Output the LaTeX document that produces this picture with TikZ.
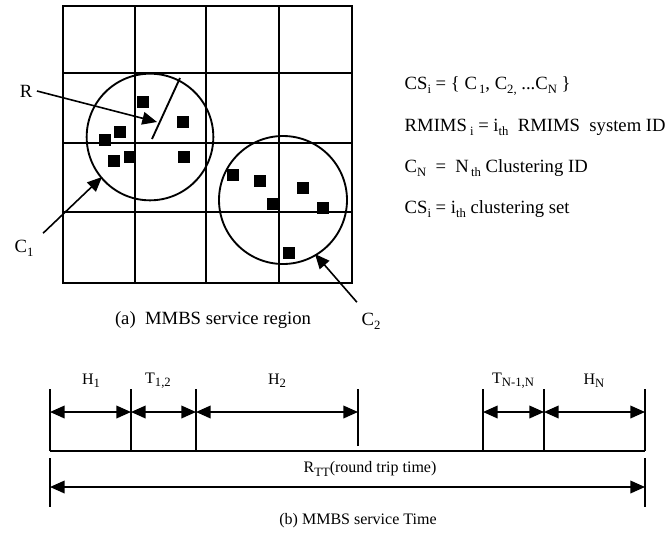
\documentclass[tikz,border=0pt]{standalone}
\usepackage{fontspec}
\setmainfont{Liberation Serif}
\usetikzlibrary{arrows.meta}
\newcommand{\lowtxt}[1]{\raisebox{-0.45ex}{\fontsize{9.5}{9.5}\selectfont #1}}

\begin{document}
\begin{tikzpicture}[x=0.75pt,y=-0.75pt,>={Triangle[length=11pt,width=9.5pt]},
	grid/.style={line width=1.8pt},
	ring/.style={line width=1.4pt},
	host/.style={fill=black,minimum size=9pt,inner sep=0pt},
	tick/.style={line width=1pt},
	span/.style={<->,line width=1.2pt},
	big/.style={font=\fontsize{14}{16}\selectfont},
	mid/.style={font=\fontsize{14}{16}\selectfont},
	small/.style={font=\fontsize{12}{14}\selectfont}]
	\useasboundingbox (0,0) rectangle (670,532);

	% draw the service region grid
	\draw[grid] (63,6) rectangle (352,283);
	\foreach \x in {135,206,279}
		\draw[grid] (\x,6) -- (\x,283);
	\foreach \y in {73,143,212}
		\draw[grid] (63,\y) -- (352,\y);

	% the two clusters
	\coordinate (c1) at (150,137);
	\coordinate (c2) at (283,200);
	\draw[ring] (c1) circle[radius=47.5pt];
	\draw[ring] (c2) circle[radius=48pt];
	\coordinate (rim) at (180,78);
	\draw[ring] (152,139) -- (rim);

	% hosts of the first cluster
	\foreach \x/\y [count=\i] in {143/102,183/122,120/132,105/140,130/157,114/161,184/157}
		\node[host] (a\i) at (\x,\y) {};
	% hosts of the second cluster
	\foreach \x/\y [count=\i] in {233/175,260/181,303/188,273/204,323/208,289/253}
		\node[host] (b\i) at (\x,\y) {};

	% labels with their arrows
	\node[mid] (R) at (26,91) {R};
	\coordinate (Rtip) at (157,122);
	\draw[->,line width=1.2pt] (R.east) -- (Rtip);

	\node[mid] (C1) at (24,248) {C\lowtxt{1}};
	\coordinate (C1tip) at (102,177);
	\draw[->,line width=1.2pt] ([shift={(5,-2)}]C1.north east) -- (C1tip);

	\node[mid] (C2) at (371,321) {C\lowtxt{2}};
	\coordinate (C2tip) at (315,254);
	\draw[->,line width=1.2pt] ([shift={(0,-6)}]C2.north west) -- (C2tip);

	\node[big] (capa) at (213,320) {(a)\ \ MMBS service region};

	% definitions on the right
	\node[big,anchor=west] (def1) at (400,86) {CS\lowtxt{i} = \{ C\lowtxt{\,1}, C\lowtxt{2,} ...C\lowtxt{N} \}};
	\node[big,anchor=west] (def2) at (400,127) {RMIMS\lowtxt{\ i} = i\lowtxt{th}\ \ RMIMS\ \ system ID};
	\node[big,anchor=west] (def3) at (400,168) {C\lowtxt{N}\ \ =\ \ N\lowtxt{\,th} Clustering ID};
	\node[big,anchor=west] (def4) at (400,209) {CS\lowtxt{i} = i\lowtxt{th} clustering set};

	% the time line
	\foreach \n/\x in {0/50,1/131,2/196,3/358,4/483,5/544,6/645} {
		\coordinate (t\n) at (\x,451);
		\coordinate (s\n) at (\x,412);
	}
	\foreach \n in {0,1,2,4,5,6}
		\draw[tick] (t\n) -- ++(0,-62);
	\draw[tick] (t3) ++(0,-5) -- ++(0,-57);
	\draw[line width=1.5pt] (t0) -- (t6);

	% draw each span
	\foreach \a/\b in {0/1,1/2,2/3,4/5,5/6}
		\draw[span] (s\a) -- (s\b);

	\node[small] (H1) at (91,381) {H\lowtxt{1}};
	\node[small] (T12) at (158,381) {T\lowtxt{1,2}};
	\node[small] (H2) at (277,381) {H\lowtxt{2}};
	\node[small] (TN) at (513,381) {T\lowtxt{N-1,N}};
	\node[small] (HN) at (594,381) {H\lowtxt{N}};

	% round trip time
	\coordinate (r0) at (50,487);
	\coordinate (r6) at (645,487);
	\draw[tick] (50,458) -- (50,507);
	\draw[tick] (645,458) -- (645,507);
	\draw[span] (r0) -- (r6);
	\node[small] (RTT) at (370,469) {R\lowtxt{TT}(round trip time)};

	\node[small] (capb) at (358,521) {(b) MMBS service Time};
\end{tikzpicture}
\end{document}
